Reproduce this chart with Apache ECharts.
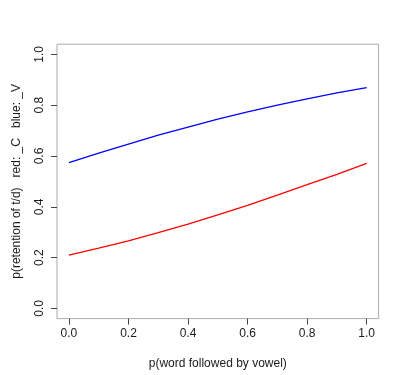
<!DOCTYPE html>
<html><head><meta charset="utf-8">
<script src="https://cdn.jsdelivr.net/npm/echarts@6/dist/echarts.min.js"></script>
<style>html,body{margin:0;padding:0;background:#fff}#c{width:400px;height:375px}</style>
</head><body><div id="c"></div>
<script>
const pVowel = [0, 0.1, 0.2, 0.3, 0.4, 0.5, 0.6, 0.7, 0.8, 0.9, 1.0];
const retentionV = [0.574, 0.611, 0.647, 0.682, 0.714, 0.745, 0.774, 0.800, 0.825, 0.848, 0.869];
const retentionC = [0.210, 0.237, 0.266, 0.298, 0.332, 0.368, 0.406, 0.446, 0.487, 0.528, 0.571];
const tickValues = [0, 0.2, 0.4, 0.6, 0.8, 1.0];
const xTitle = 'p(word followed by vowel)';
const yTitle = 'p(retention of t/d)   red: _C   blue: _V';

const font = '"Liberation Sans", Arial, Helvetica, sans-serif';
const textColor = '#1a1a1a';
const axisCommon = {
  type: 'value', min: -0.04, max: 1.04,
  splitLine: {show: false},
  axisLine: {show: false, onZero: false},
  axisTick: {show: true, customValues: tickValues, length: 6, lineStyle: {color: '#444', width: 1}},
  axisLabel: {customValues: tickValues, color: textColor, fontFamily: font, fontSize: 12,
    formatter: v => v.toFixed(1)},
  nameLocation: 'middle',
  nameTextStyle: {color: textColor, fontFamily: font, fontSize: 12}
};
const chart = echarts.init(document.getElementById('c'), null, {renderer: 'canvas'});
chart.setOption({
  animation: false,
  backgroundColor: '#fff',
  grid: {left: 57, right: 21.4, top: 44.2, bottom: 56.4, show: true, borderColor: '#aaa', borderWidth: 1, backgroundColor: 'transparent'},
  xAxis: Object.assign({}, axisCommon, {name: xTitle, nameGap: 39,
    axisLabel: Object.assign({}, axisCommon.axisLabel, {margin: 9})}),
  yAxis: Object.assign({}, axisCommon, {name: yTitle, nameGap: 34,
    axisLabel: Object.assign({}, axisCommon.axisLabel, {rotate: 90, margin: 11})}),
  series: [
    {type: 'line', data: pVowel.map((p, i) => [p, retentionV[i]]), smooth: false, showSymbol: false,
     lineStyle: {color: '#0000ff', width: 1.3}},
    {type: 'line', data: pVowel.map((p, i) => [p, retentionC[i]]), smooth: false, showSymbol: false,
     lineStyle: {color: '#ff0000', width: 1.3}}
  ]
});
</script></body></html>
